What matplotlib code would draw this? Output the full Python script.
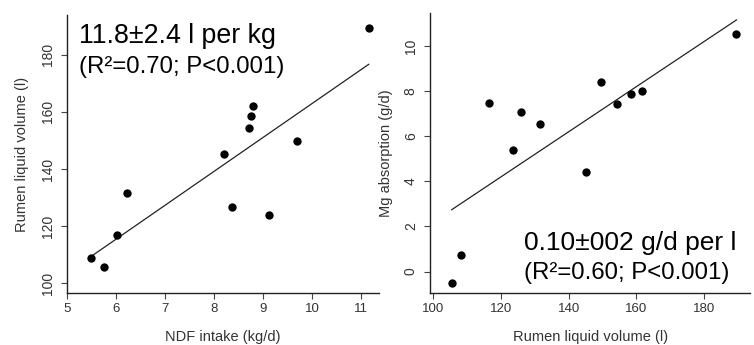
import numpy as np
import matplotlib.pyplot as plt

plt.rcParams['font.family'] = ['Liberation Sans', 'DejaVu Sans']

# left panel: NDF intake vs rumen liquid volume
ndf_intake = [5.48, 5.75, 6.01, 6.22, 8.20, 8.37, 8.71, 8.75, 8.80, 9.12, 9.69, 11.16]
rumen_vol_a = [108.7, 105.7, 116.8, 131.5, 145.1, 126.6, 154.5, 158.7, 161.9, 123.9, 149.9, 189.4]

# right panel: rumen liquid volume vs Mg absorption
rumen_vol_b = [105.5, 108.4, 116.6, 123.6, 126.0, 131.5, 145.0, 149.6, 154.3, 158.4, 161.6, 189.5]
mg_absorption = [-0.49, 0.74, 7.47, 5.38, 7.06, 6.54, 4.43, 8.40, 7.41, 7.89, 8.02, 10.52]

left_xticks = [5, 6, 7, 8, 9, 10, 11]
left_yticks = [100, 120, 140, 160, 180]
right_xticks = [100, 120, 140, 160, 180]
right_yticks = [0, 2, 4, 6, 8, 10]

tick_col = '#333333'

fig = plt.figure(figsize=(7.54, 3.45), dpi=100)
ax1 = fig.add_axes([0.0889, 0.1507, 0.4138, 0.806])
ax2 = fig.add_axes([0.5707, 0.1499, 0.424, 0.8116])


def style_axes(ax, xticks, yticks, xlim, ylim, xlabel, ylabel):
    for s in ['top', 'right']:
        ax.spines[s].set_visible(False)
    for s in ['left', 'bottom']:
        ax.spines[s].set_linewidth(1.0)
        ax.spines[s].set_color('#222222')
    ax.set_xlim(xlim)
    ax.set_ylim(ylim)
    ax.set_xticks(xticks)
    ax.set_yticks(yticks)
    ax.tick_params(length=4, width=0.8, color='#444444', labelcolor=tick_col)
    ax.tick_params(axis='x', labelsize=9.5, pad=3)
    ax.tick_params(axis='y', labelsize=10, pad=5)
    for lab in ax.get_yticklabels():
        lab.set_rotation(90)
        lab.set_va('center')
    ax.set_xlabel(xlabel, fontsize=10.5, color=tick_col, labelpad=11)
    ax.set_ylabel(ylabel, fontsize=10.5, color=tick_col, labelpad=8)


def scatter_fit(ax, x, y):
    x = np.array(x)
    y = np.array(y)
    ax.scatter(x, y, s=36, color='black', zorder=3, linewidths=0)
    k, b = np.polyfit(x, y, 1)
    xx = np.array([x.min(), x.max()])
    ax.plot(xx, k * xx + b, color='#222222', lw=0.9)


scatter_fit(ax1, ndf_intake, rumen_vol_a)
style_axes(ax1, left_xticks, left_yticks, (5.0, 11.37), (96.5, 194),
           'NDF intake (kg/d)', 'Rumen liquid volume (l)')
ax1.text(0.038, 0.899, '11.8±2.4 l per kg', transform=ax1.transAxes,
         fontsize=19.3, va='baseline')
ax1.text(0.038, 0.791, '(R²=0.70; P<0.001)', transform=ax1.transAxes,
         fontsize=17.3, va='baseline')

scatter_fit(ax2, rumen_vol_b, mg_absorption)
style_axes(ax2, right_xticks, right_yticks, (99.2, 193.5), (-0.96, 11.45),
           'Rumen liquid volume (l)', 'Mg absorption (g/d)')
ax2.text(0.292, 0.155, '0.10±002 g/d per l', transform=ax2.transAxes,
         fontsize=19, va='baseline')
ax2.text(0.292, 0.051, '(R²=0.60; P<0.001)', transform=ax2.transAxes,
         fontsize=17.3, va='baseline')

fig.savefig('out.png', dpi=100)
